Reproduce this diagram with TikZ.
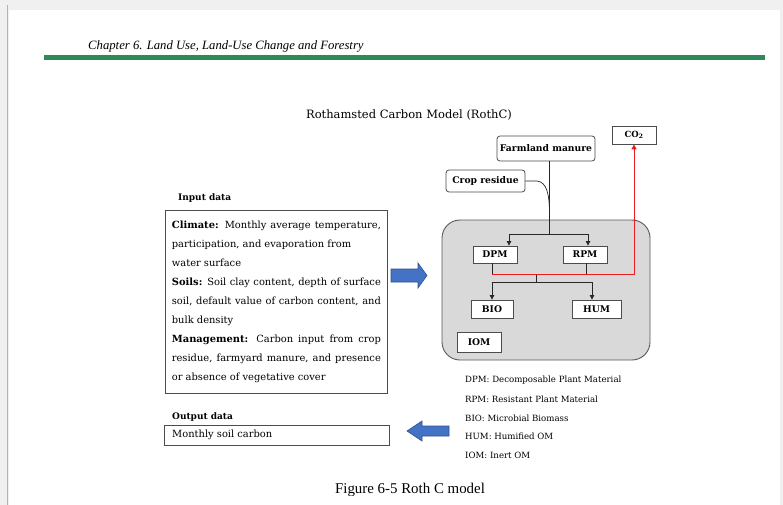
\documentclass[tikz,border=0pt]{standalone}
\usepackage{fontspec}
\setmainfont{DejaVu Serif}
\newfontfamily\timesf{Liberation Serif}
\usetikzlibrary{arrows.meta}
\definecolor{hdrgreen}{RGB}{46,139,87}
\definecolor{arrblue}{RGB}{68,114,196}
\definecolor{arrblued}{RGB}{47,82,143}
\definecolor{panel}{RGB}{217,217,217}
\definecolor{redline}{RGB}{230,30,30}
\begin{document}
\begin{tikzpicture}[x=1pt,y=-1pt,
  box/.style={draw=black!70, line width=0.8pt, fill=white, inner sep=0pt,
    font=\fontsize{9.2}{11}\selectfont\bfseries},
  rbox/.style={box, rounded corners=3pt},
  conn/.style={draw=black!85, line width=0.7pt},
  arr/.style={conn, -{Triangle[length=4.5pt,width=4.5pt]}},
  redarr/.style={draw=redline, line width=1pt, -{Triangle[length=5pt,width=5pt]}},
  body/.style={font=\fontsize{9.9}{19}\selectfont},
  legend/.style={anchor=west, inner sep=0pt, font=\fontsize{8.6}{10}\selectfont},
  label/.style={anchor=west, inner sep=0pt, font=\fontsize{9}{11}\selectfont\bfseries},
  bluearrow/.style={fill=arrblue, draw=arrblued, line width=0.6pt}
]
\useasboundingbox (0,0) rectangle (783,505);
% page background
\fill[black!6] (0,0) rectangle (783,505);
\fill[white] (9,10) rectangle (780,505);
\draw[black!30] (7,5) -- (7,505);

% header
\node[anchor=base west, inner sep=0pt, font=\timesf\itshape\fontsize{12.7}{14}\selectfont] (hdr) at (88,50)
  {Chapter 6. Land Use, Land-Use Change and Forestry};
\draw[hdrgreen, line width=5pt] (44,58) -- (765,58);

% title
\node[font=\fontsize{11.5}{13}\selectfont] (title) at (409,115) {Rothamsted Carbon Model (RothC)};

% input data
\node[label] (inlab) at (178,198) {Input data};
\node[draw=black!70, line width=0.8pt, anchor=north west, text width=209pt, align=justify,
  inner xsep=6.5pt, inner ysep=0pt, minimum height=183pt, body] (inbox) at (165,210)
 {\textbf{Climate:} Monthly average temperature,\linebreak
  participation, and evaporation from\newline
  water surface\newline
  \textbf{Soils:} Soil clay content, depth of surface\linebreak
  soil, default value of carbon content, and\linebreak
  bulk density\newline
  \textbf{Management:} Carbon input from crop\linebreak
  residue, farmyard manure, and presence\linebreak
  or absence of vegetative cover};

% output data
\node[label] (outlab) at (172,417) {Output data};
\node[draw=black!70, line width=0.8pt, anchor=north west, minimum width=225pt, minimum height=20pt,
  inner sep=0pt] (outbox) at (164,425) {};
\node[anchor=west, inner sep=0pt, body] (outtxt) at (172,435) {Monthly soil carbon};

% blue arrows
\draw[bluearrow] (391,269) -- (418,269) -- (418,263) -- (427,275.5) -- (418,288) -- (418,282) -- (391,282) -- cycle;
\draw[bluearrow] (449,426) -- (422,426) -- (422,421) -- (407,431) -- (422,441) -- (422,436) -- (449,436) -- cycle;

% model panel
\draw[draw=black!65, line width=0.9pt, fill=panel, rounded corners=18pt] (442,220) rectangle (650,360);

\node[box, minimum width=44pt, minimum height=17pt] (dpm) at (495,254.5) {DPM};
\node[box, minimum width=44pt, minimum height=17pt] (rpm) at (585,254.5) {RPM};
\node[box, minimum width=42pt, minimum height=18pt] (bio) at (492,309) {BIO};
\node[box, minimum width=49pt, minimum height=18pt] (hum) at (596.5,309) {HUM};
\node[box, minimum width=44pt, minimum height=20pt] (iom) at (479,342) {IOM};
\node[box, minimum width=44pt, minimum height=18pt, font=\fontsize{8.5}{10}\selectfont\bfseries] (co2) at (634,135) {CO\textsubscript{2}};
\node[rbox, minimum width=98pt, minimum height=25pt] (farm) at (546,148.5) {Farmland manure};
\node[rbox, minimum width=79pt, minimum height=22pt] (crop) at (485.5,181) {Crop residue};

% connectors
\coordinate (j1) at (549.5,234);
\coordinate (merge) at (549.5,214);
\coordinate (jd) at (509,234);
\coordinate (jr) at (588,234);
\draw[conn] (farm.south -| j1) -- (j1);
\draw[conn] (crop.east) -- (537,181) .. controls (547,182) and (549.5,195) .. (merge);
\draw[conn] (jd) -- (jr);
\draw[arr] (jd) -- (jd |- dpm.north);
\draw[arr] (jr) -- (jr |- rpm.north);

\coordinate (r1) at (492,274);
\coordinate (r2) at (586,274);
\coordinate (m) at (536,274);
\coordinate (b) at (536,282);
\coordinate (bl) at (492,282);
\coordinate (br) at (592,282);
\draw[conn] (dpm.south -| r1) -- (r1);
\draw[conn] (rpm.south -| r2) -- (r2);
\draw[conn] (m) -- (b);
\draw[conn] (bl) -- (br);
\draw[arr] (bl) -- (bl |- bio.north);
\draw[arr] (br) -- (br |- hum.north);
\draw[redarr] (r1) -| (co2.south);

% legend
\node[legend] (l1) at (465,380) {DPM: Decomposable Plant Material};
\node[legend] (l2) at (465,399) {RPM: Resistant Plant Material};
\node[legend] (l3) at (465,418) {BIO: Microbial Biomass};
\node[legend] (l4) at (465,436.5) {HUM: Humified OM};
\node[legend] (l5) at (465,455) {IOM: Inert OM};

% caption (cut at the bottom as in the screenshot)
\node[anchor=base, inner sep=0pt, font=\timesf\fontsize{14.9}{17}\selectfont] (cap) at (410,493) {Figure 6-5 Roth C model};
\fill[white] (9,495.5) rectangle (780,505);
\end{tikzpicture}
\end{document}
